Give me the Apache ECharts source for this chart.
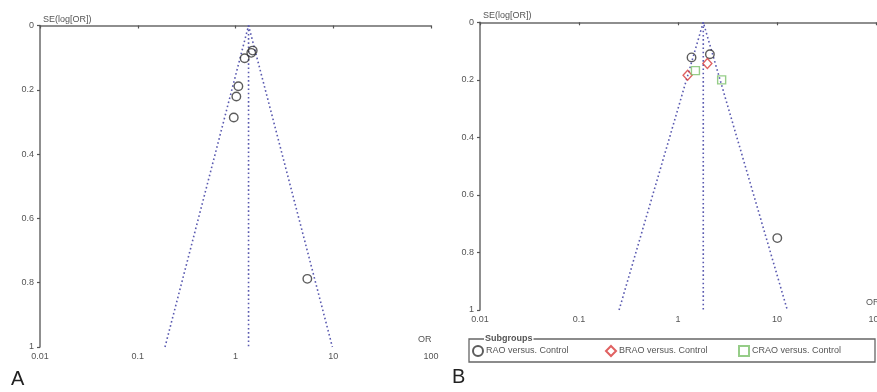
<!DOCTYPE html>
<html><head><meta charset="utf-8">
<script src="https://cdn.jsdelivr.net/npm/echarts@6/dist/echarts.min.js"></script>
<style>html,body{margin:0;padding:0;background:#fff}#c{width:877px;height:392px}</style>
</head><body><div id="c"></div>
<script>
// Panel A
const orA = [1.45, 1.50, 1.24, 1.07, 1.02, 0.96, 5.43];
const seA = [0.085, 0.078, 0.102, 0.189, 0.221, 0.286, 0.788];
const funnelA_OR = [0.19, 1.36, 9.8];
const funnelA_SE = [1, 0, 1];
const pooledA = 1.36;
// Panel B
const raoOR = [1.37, 2.10, 10.07];
const raoSE = [0.122, 0.111, 0.75];
const braoOR = [1.25, 1.98];
const braoSE = [0.184, 0.143];
const craoOR = [1.50, 2.76];
const craoSE = [0.168, 0.20];
const funnelB_OR = [0.254, 1.80, 12.7];
const funnelB_SE = [1, 0, 1];
const pooledB = 1.80;
const legendNames = ['RAO versus. Control', 'BRAO versus. Control', 'CRAO versus. Control'];

const zip = (a, b) => a.map((v, i) => [v, b[i]]);
const font = 'Liberation Sans, Arial, sans-serif';
const axisCol = '#6a6a6a';
function xAx(gi) {
  return { type: 'log', logBase: 10, gridIndex: gi, min: 0.01, max: 100,
    axisLine: { lineStyle: { color: axisCol, width: 1.5 } },
    axisTick: { show: true, length: 3, lineStyle: { color: '#555', width: 1.2 } },
    axisLabel: { color: '#555', fontSize: 9, fontFamily: font, margin: 5,
      formatter: v => String(+v.toPrecision(3)) },
    splitLine: { show: false }, minorTick: { show: false } };
}
function yAx(gi) {
  return { type: 'value', gridIndex: gi, min: 0, max: 1, interval: 0.2, inverse: true,
    axisLine: { show: true, lineStyle: { color: axisCol, width: 1.5 } },
    axisTick: { show: true, length: 3, lineStyle: { color: '#555', width: 1.2 } },
    axisLabel: { color: '#555', fontSize: 9, fontFamily: font, margin: 6,
      formatter: v => String(+v.toFixed(1)) },
    splitLine: { show: false } };
}
const dotLine = { color: '#5a5ab0', width: 1.6, type: [1.6, 2.6] };
function funnel(gi, ors, ses) {
  return { type: 'line', xAxisIndex: gi, yAxisIndex: gi, data: zip(ors, ses),
    symbol: 'none', lineStyle: dotLine, silent: true, z: 1 };
}
function vline(gi, p) {
  return { type: 'line', xAxisIndex: gi, yAxisIndex: gi, data: [[p, 0], [p, 1]],
    symbol: 'none', lineStyle: dotLine, silent: true, z: 1 };
}
const circleStyle = { color: 'rgba(255,255,255,0)', borderColor: '#333', borderWidth: 1.4 };
function leg(name, left) {
  return { data: [name], left: left, top: 345, padding: 0, itemGap: 0,
    itemWidth: 10, itemHeight: 10, selectedMode: false,
    textStyle: { color: '#555', fontSize: 9, fontFamily: font, padding: [2, 0, 0, -2] } };
}
const chart = echarts.init(document.getElementById('c'), null, { renderer: 'canvas' });
chart.setOption({
  animation: false,
  backgroundColor: '#fff',
  grid: [
    { left: 40, right: 446, top: 25.5, bottom: 45, outerBoundsMode: 'none' },
    { left: 480, right: 1, top: 22.3, bottom: 82, outerBoundsMode: 'none' }
  ],
  xAxis: [xAx(0), xAx(1)],
  yAxis: [yAx(0), yAx(1)],
  legend: [leg(legendNames[0], 472), leg(legendNames[1], 605), leg(legendNames[2], 738)],
  series: [
    funnel(0, funnelA_OR, funnelA_SE),
    vline(0, pooledA),
    { type: 'scatter', xAxisIndex: 0, yAxisIndex: 0, data: zip(orA, seA),
      symbol: 'circle', symbolSize: 8.5, itemStyle: circleStyle, z: 3 },
    funnel(1, funnelB_OR, funnelB_SE),
    vline(1, pooledB),
    { name: legendNames[0], type: 'scatter', xAxisIndex: 1, yAxisIndex: 1, data: zip(raoOR, raoSE),
      symbol: 'circle', symbolSize: 8.5, itemStyle: circleStyle, z: 3 },
    { name: legendNames[1], type: 'scatter', xAxisIndex: 1, yAxisIndex: 1, data: zip(braoOR, braoSE),
      symbol: 'diamond', symbolSize: [9, 10],
      itemStyle: { color: 'rgba(255,255,255,0)', borderColor: '#d83a3a', borderWidth: 1.4 }, z: 3 },
    { name: legendNames[2], type: 'scatter', xAxisIndex: 1, yAxisIndex: 1, data: zip(craoOR, craoSE),
      symbol: 'rect', symbolSize: 8,
      itemStyle: { color: 'rgba(255,255,255,0)', borderColor: '#7cc06a', borderWidth: 1.4 }, z: 3 }
  ],
  graphic: [
    { type: 'rect', shape: { x: 469, y: 339, width: 406, height: 23 }, z: 0,
      style: { fill: 'none', stroke: '#666', lineWidth: 1.3 } },
    { type: 'text', left: 43, top: 15, style: { text: 'SE(log[OR])', fontSize: 9, fontFamily: font, fill: '#555' } },
    { type: 'text', left: 483, top: 11, style: { text: 'SE(log[OR])', fontSize: 9, fontFamily: font, fill: '#555' } },
    { type: 'text', left: 418, top: 335, style: { text: 'OR', fontSize: 9, fontFamily: font, fill: '#555' } },
    { type: 'text', left: 866, top: 298, style: { text: 'OR', fontSize: 9, fontFamily: font, fill: '#555' } },
    { type: 'text', left: 484, top: 334, z: 100, style: { text: 'Subgroups', fontSize: 9, fontWeight: 'bold', fontFamily: font, fill: '#555', backgroundColor: '#fff', padding: [0, 1] } },
    { type: 'text', left: 11, top: 369, style: { text: 'A', fontSize: 20, fontFamily: font, fill: '#222' } },
    { type: 'text', left: 452, top: 367, style: { text: 'B', fontSize: 20, fontFamily: font, fill: '#222' } }
  ]
});
</script></body></html>
